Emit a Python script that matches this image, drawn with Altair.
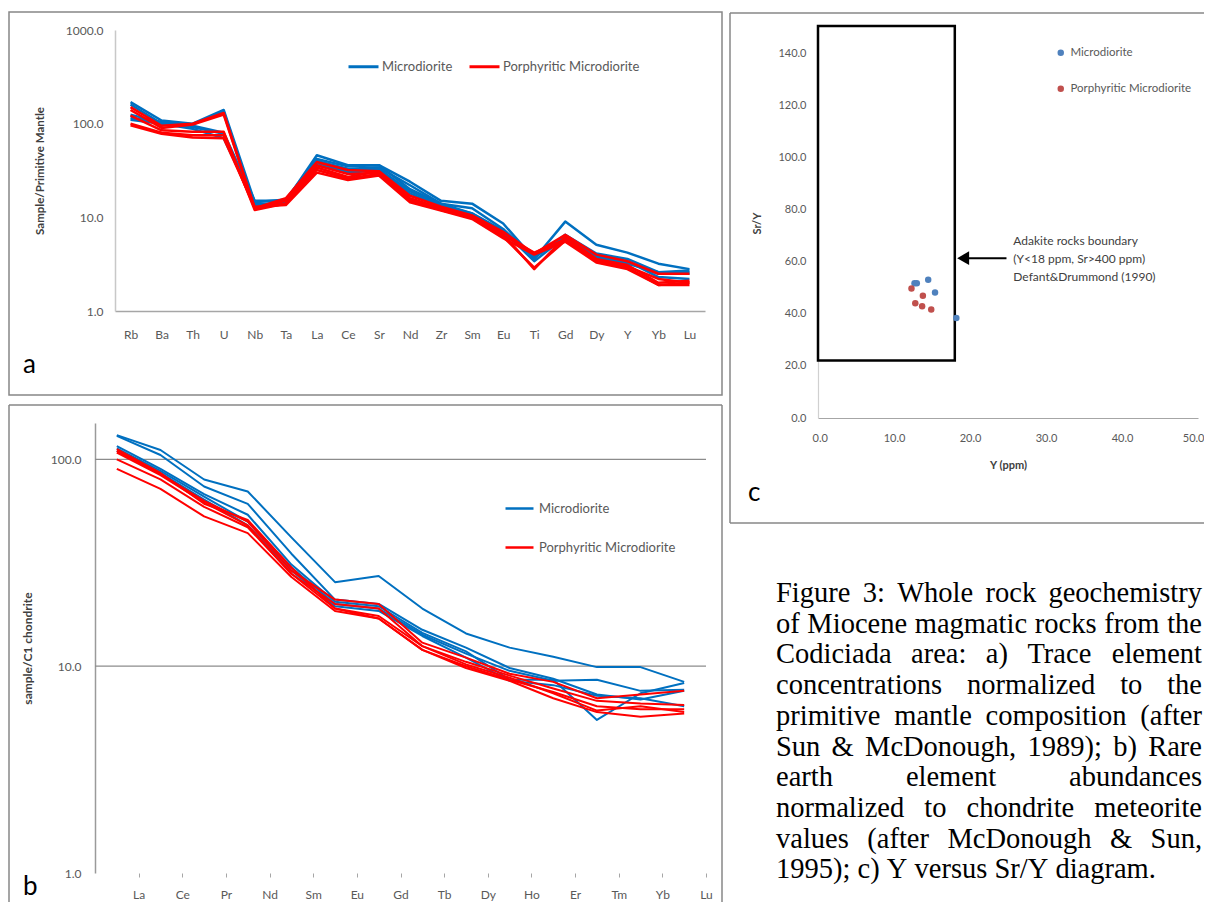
import altair as alt
import pandas as pd

FONT = "Lato"
SERIF = "Liberation Serif"
BLUE_LINE = "#0070C0"
RED_LINE = "#FF0000"
BLUE_PT = "#4F81BD"
RED_PT = "#C0504D"
TXT = "#595959"
TITLE = "#404040"
FRAME = "#878787"

groups = ["Microdiorite", "Porphyritic Microdiorite"]

# ---------------- panel a : primitive-mantle normalised trace elements
elements_a = ["Rb", "Ba", "Th", "U", "Nb", "Ta", "La", "Ce", "Sr", "Nd", "Zr", "Sm",
              "Eu", "Ti", "Gd", "Dy", "Y", "Yb", "Lu"]
a_M1 = [115, 105, 95, 80, 15, 15, 46, 36, 36, 24, 15, 14, 8.6, 3.6, 9.0, 5.1, 4.2, 3.2, 2.8]
a_M2 = [170, 108, 100, 140, 14.5, 15.5, 42, 35, 36, 20, 14, 12.5, 7.5, 3.7, 6.5, 4.1, 3.6, 2.6, 2.7]
a_M3 = [110, 100, 88, 70, 14, 14, 40, 33, 34, 22, 14, 11, 7.2, 3.4, 6.2, 3.9, 3.4, 2.3, 2.2]
a_M4 = [125, 102, 92, 78, 13.5, 14.5, 38, 31, 33, 19, 13.5, 11, 7.0, 3.8, 6.0, 3.8, 3.3, 2.5, 2.5]
a_M5 = [160, 100, 98, 135, 13, 15, 36, 30, 32, 18, 13, 10.5, 6.9, 3.9, 5.9, 3.7, 3.2, 2.6, 2.6]
a_P1 = [150, 95, 100, 130, 12.5, 16, 39, 32, 31, 17, 13, 10.5, 7.0, 4.1, 6.5, 4.0, 3.4, 2.5, 2.5]
a_P2 = [140, 90, 98, 125, 12.5, 15, 36, 29, 30, 16, 12.5, 10, 6.6, 2.8, 6.2, 3.6, 3.1, 2.0, 2.1]
a_P3 = [122, 85, 82, 82, 12, 14, 34, 27, 31, 15.5, 12, 10, 6.4, 4.2, 5.8, 3.5, 3.0, 2.2, 2.0]
a_P4 = [100, 80, 75, 75, 12.5, 14, 32, 26, 29, 15, 12, 9.8, 6.2, 2.9, 5.6, 3.4, 2.9, 1.9, 2.0]
a_P5 = [96, 78, 71, 70, 13, 13.5, 30, 25, 28, 14.5, 11.8, 9.6, 6.0, 4.0, 5.5, 3.3, 2.8, 1.9, 1.9]
a_ticks = [1, 10, 100, 1000]

# ---------------- panel b : chondrite normalised REE
elements_b = ["La", "Ce", "Pr", "Nd", "Sm", "Eu", "Gd", "Tb", "Dy", "Ho", "Er", "Tm", "Yb", "Lu"]
b_M1 = [131, 111, 80, 70, 42, 25.5, 27.3, 19, 14.4, 12.3, 11.1, 9.9, 9.9, 8.4]
b_M2 = [130, 105, 74, 61, 35, 21, 20, 15, 12.3, 9.8, 8.7, 7.3, 6.9, 7.6]
b_M3 = [116, 90, 68, 54, 31, 20.5, 19.5, 14.5, 11.8, 8.6, 8.6, 5.5, 7.4, 8.3]
b_M4 = [113, 88, 66, 50, 30, 20, 19, 14.2, 11.5, 9.5, 8.5, 8.6, 7.6, 7.7]
b_M5 = [110, 86, 64, 48, 29, 19.5, 18.5, 14, 11, 8.5, 8.1, 7.2, 7.0, 6.4]
b_P1 = [110, 85, 63, 50, 29, 21, 20, 13, 11, 9.2, 8.4, 7.0, 7.3, 7.6]
b_P2 = [108, 84, 62, 48, 28, 20, 19, 12.5, 10.5, 9.0, 7.8, 6.8, 6.6, 6.5]
b_P3 = [100, 80, 59, 47, 28, 19, 17, 12, 10, 8.6, 7.5, 6.4, 6.2, 6.2]
b_P4 = [90, 72, 53, 44, 27, 18.5, 17, 12, 9.8, 8.5, 7.0, 6.0, 5.7, 5.9]
b_P5 = [112, 86, 61, 51, 30, 19, 17.5, 12.5, 10.2, 8.8, 7.4, 6.1, 6.4, 6.0]
b_ticks = [1, 10, 100]
b_grid = [10, 100]

# ---------------- panel c : Y vs Sr/Y
c_y_micro = [12.7, 13.0, 14.5, 15.4, 18.2]
c_sry_micro = [51.7, 51.7, 53.0, 48.1, 38.4]
c_y_porph = [12.3, 13.8, 12.8, 13.7, 14.9]
c_sry_porph = [49.7, 46.9, 44.0, 42.9, 41.6]
c_xticks = [0, 10, 20, 30, 40, 50]
c_yticks = [0, 20, 40, 60, 80, 100, 120, 140]
box_y = [0.0, 18.0]
box_sry = [22.1, 150.4]
arrow_y = [24.8, 19.6]
arrow_sry = 61.3
head_y = 19.1
note_lines = ["Adakite rocks boundary", "(Y<18 ppm, Sr>400 ppm)", "Defant&Drummond (1990)"]
note_y = 25.7
note_sry = [68.0, 61.0, 54.2]

caption_lines = [
    "Figure 3: Whole rock geochemistry",
    "of Miocene magmatic rocks from the",
    "Codiciada area: a) Trace element",
    "concentrations normalized to the",
    "primitive mantle composition (after",
    "Sun & McDonough, 1989); b) Rare",
    "earth element abundances",
    "normalized to chondrite meteorite",
    "values (after McDonough & Sun,",
    "1995); c) Y versus Sr/Y diagram.",
]

# ---------------- page layout (pixels relative to the drawing origin)
W, H = 1196, 894
# panel a plot rectangle
AX0, AX1, AY0, AY1 = 107, 697, 22, 303
# panel b plot rectangle
BX0, BX1, BY0, BY1 = 87, 698, 415, 865
# panel c plot rectangle
CX0, CX1, CY0, CY1 = 810, 1190, 45, 410


def long_df(elements, series):
    rows = []
    for name, group, vals in series:
        for e, v in zip(elements, vals):
            rows.append({"element": e, "sample": name, "group": group, "value": v})
    return pd.DataFrame(rows)


df_a = long_df(elements_a, [
    ("M1", groups[0], a_M1), ("M2", groups[0], a_M2), ("M3", groups[0], a_M3),
    ("M4", groups[0], a_M4), ("M5", groups[0], a_M5),
    ("P1", groups[1], a_P1), ("P2", groups[1], a_P2), ("P3", groups[1], a_P3),
    ("P4", groups[1], a_P4), ("P5", groups[1], a_P5)])
df_b = long_df(elements_b, [
    ("M1", groups[0], b_M1), ("M2", groups[0], b_M2), ("M3", groups[0], b_M3),
    ("M4", groups[0], b_M4), ("M5", groups[0], b_M5),
    ("P1", groups[1], b_P1), ("P2", groups[1], b_P2), ("P3", groups[1], b_P3),
    ("P4", groups[1], b_P4), ("P5", groups[1], b_P5)])

one = pd.DataFrame({"k": [0]})


def frame_rect(x0, x1, y0, y1):
    return alt.Chart(one).mark_rect(fillOpacity=0, stroke=FRAME, strokeWidth=1.5).encode(
        x=alt.value(x0), x2=alt.value(x1), y=alt.value(y0), y2=alt.value(y1))


def frame_rule(x0, y0, x1, y1):
    return alt.Chart(one).mark_rule(color=FRAME, strokeWidth=1.5).encode(
        x=alt.value(x0), y=alt.value(y0), x2=alt.value(x1), y2=alt.value(y1))


def letter(ch, x, y, size):
    return alt.Chart(one).mark_text(text=ch, align="left", baseline="middle", font=FONT,
                                    fontSize=size, color="black").encode(
        x=alt.value(x), y=alt.value(y))


# ================= panel a
xa_scale = alt.Scale(type="point", padding=0.5, range=[AX0, AX1])
ya_scale = alt.Scale(type="log", domain=[1, 1000], nice=False, range=[AY1, AY0])
lines_a = alt.Chart(df_a).mark_line(strokeWidth=2.5, strokeJoin="round").encode(
    x=alt.X("element:N", sort=elements_a, scale=xa_scale,
            axis=alt.Axis(orient="bottom", offset=AY1 - H, title=None, labelFont=FONT,
                          labelFontSize=12, labelColor=TXT, labelAngle=0, ticks=False,
                          tickSize=0, labelPadding=18, domainColor="#A6A6A6",
                          domainWidth=1.5, grid=False, labelFlush=False)),
    y=alt.Y("value:Q", scale=ya_scale,
            axis=alt.Axis(orient="left", offset=-AX0, title="Sample/Primitive Mantle",
                          values=a_ticks, format=".1f", labelFont=FONT, labelFontSize=12,
                          labelColor=TXT, ticks=False, tickSize=0, labelPadding=12,
                          labelFlush=False, domainColor="#C8C8C8", domainWidth=1.5,
                          grid=False, titleFont=FONT, titleFontSize=11.5,
                          titleFontWeight="bold", titleColor=TITLE, titleAngle=270,
                          titleX=-75, titleY=(AY0 + AY1) / 2, titleAlign="center",
                          titleBaseline="middle")),
    color=alt.Color("group:N", scale=alt.Scale(domain=groups, range=[BLUE_LINE, RED_LINE]),
                    legend=alt.Legend(title=None, orient="none", legendX=AX0 + 232,
                                      legendY=AY0 + 20, direction="horizontal",
                                      symbolType="stroke", symbolSize=900,
                                      symbolStrokeWidth=3, labelFont=FONT, labelFontSize=13,
                                      labelColor=TXT, columnPadding=10, labelOffset=2,
                                      padding=0)),
    detail="sample:N",
)

# ================= panel b
xb_scale = alt.Scale(type="point", padding=0.5, range=[BX0, BX1])
yb_scale = alt.Scale(type="log", domain=[1, 150], nice=False, range=[BY1, BY0])
grid_b = alt.Chart(pd.DataFrame({"value": b_grid})).mark_rule(
    color="#8C8C8C", strokeWidth=1.2).encode(
    y=alt.Y("value:Q", scale=yb_scale, axis=None),
    x=alt.value(BX0), x2=alt.value(BX1))
lines_b = alt.Chart(df_b).mark_line(strokeWidth=2, strokeJoin="round").encode(
    x=alt.X("element:N", sort=elements_b, scale=xb_scale,
            axis=alt.Axis(orient="bottom", offset=BY1 - H, title=None, labelFont=FONT,
                          labelFontSize=12, labelColor=TXT, labelAngle=0, ticks=True,
                          tickSize=4, tickColor="#A6A6A6",
                          tickOffset=(BX1 - BX0) / (2 * len(elements_b)),
                          labelPadding=12, labelFlush=False, domain=False, grid=False)),
    y=alt.Y("value:Q", scale=yb_scale,
            axis=alt.Axis(orient="left", offset=-BX0, title="sample/C1 chondrite",
                          values=b_ticks, format=".1f", labelFont=FONT, labelFontSize=12,
                          labelColor=TXT, ticks=False, tickSize=0, labelPadding=14,
                          labelFlush=False, domainColor="#9A9A9A", domainWidth=1.5,
                          grid=False, titleFont=FONT, titleFontSize=12,
                          titleFontWeight="bold", titleColor=TITLE, titleAngle=270,
                          titleX=-68, titleY=(BY0 + BY1) / 2, titleAlign="center",
                          titleBaseline="middle")),
    color=alt.Color("group:N", scale=alt.Scale(domain=groups, range=[BLUE_LINE, RED_LINE]),
                    legend=alt.Legend(title=None, orient="none", legendX=BX0 + 409,
                                      legendY=BY0 + 70, direction="vertical",
                                      symbolType="stroke", symbolSize=784,
                                      symbolStrokeWidth=2.5, labelFont=FONT,
                                      labelFontSize=13, labelColor=TXT, rowPadding=16,
                                      labelOffset=4, padding=0)),
    detail="sample:N",
)

# ================= panel c
sx = alt.Scale(domain=[0, 50], nice=False, range=[CX0, CX1])
sy = alt.Scale(domain=[0, 140], nice=False, range=[CY1, CY0])
ax_cx = alt.Axis(orient="bottom", offset=CY1 - H, title="Y (ppm)", values=c_xticks,
                 format=".1f", labelFont=FONT, labelFontSize=11, labelColor=TXT, ticks=False,
                 tickSize=0, labelPadding=14, labelFlush=True, labelFlushOffset=6,
                 domainColor="#A6A6A6", domainWidth=1.2, grid=False, titleFont=FONT,
                 titleFontSize=11, titleFontWeight="bold", titleColor=TITLE,
                 titleX=(CX0 + CX1) / 2, titleY=47, titleBaseline="middle")
ax_cy = alt.Axis(orient="left", offset=-CX0, title="Sr/Y", values=c_yticks, format=".1f",
                 labelFont=FONT, labelFontSize=11, labelColor=TXT, ticks=False, tickSize=0,
                 labelPadding=12, labelFlush=False, domainColor="#D0D0D0", domainWidth=1.2,
                 grid=False, titleFont=FONT, titleFontSize=11, titleFontWeight="bold",
                 titleColor=TITLE, titleAngle=270, titleX=-61, titleY=215,
                 titleAlign="center", titleBaseline="middle")


def cx(f, axis=None):
    if axis is None:
        return alt.X(f, type="quantitative", scale=sx, axis=None)
    return alt.X(f, type="quantitative", scale=sx, axis=axis)


def cy(f, axis=None):
    if axis is None:
        return alt.Y(f, type="quantitative", scale=sy, axis=None)
    return alt.Y(f, type="quantitative", scale=sy, axis=axis)


df_c = pd.DataFrame({
    "Y": c_y_micro + c_y_porph,
    "SrY": c_sry_micro + c_sry_porph,
    "group": [groups[0]] * len(c_y_micro) + [groups[1]] * len(c_y_porph),
})
pts = alt.Chart(df_c).mark_circle(size=42, opacity=1).encode(
    x=cx("Y", ax_cx), y=cy("SrY", ax_cy),
    color=alt.Color("group:N", scale=alt.Scale(domain=groups, range=[BLUE_PT, RED_PT]),
                    legend=alt.Legend(title=None, orient="none", legendX=CX0 + 237,
                                      legendY=CY0 - 6, direction="vertical",
                                      symbolType="circle", symbolSize=42, labelFont=FONT,
                                      labelFontSize=11.5, labelColor=TXT, rowPadding=23,
                                      labelOffset=4, padding=0)),
)
box = alt.Chart(pd.DataFrame({"x0": [box_y[0]], "x1": [box_y[1]], "y0": [box_sry[0]],
                              "y1": [box_sry[1]]})).mark_rect(
    fillOpacity=0, stroke="black", strokeWidth=2.5).encode(
    x=cx("x0"), x2=alt.X2("x1"), y=cy("y0"), y2=alt.Y2("y1"))
arrow = alt.Chart(pd.DataFrame({"x0": [arrow_y[0]], "x1": [arrow_y[1]],
                                "y": [arrow_sry]})).mark_rule(
    color="black", strokeWidth=2).encode(x=cx("x0"), x2=alt.X2("x1"), y=cy("y"))
head = alt.Chart(pd.DataFrame({"x": [head_y], "y": [arrow_sry]})).mark_point(
    shape="triangle-left", filled=True, size=190, color="black", opacity=1,
    strokeWidth=0).encode(x=cx("x"), y=cy("y"))
note = alt.Chart(pd.DataFrame({"x": [note_y] * 3, "y": note_sry, "t": note_lines})).mark_text(
    align="left", baseline="middle", font=FONT, fontSize=12, color="#404040").encode(
    x=cx("x"), y=cy("y"), text="t:N")

# ================= caption, justified with Times metrics (Liberation Serif)
TIMES = {" ": 250, "a": 444, "b": 500, "c": 444, "d": 500, "e": 444, "f": 333, "g": 500,
         "h": 500, "i": 278, "j": 278, "k": 500, "l": 278, "m": 778, "n": 500, "o": 500,
         "p": 500, "q": 500, "r": 333, "s": 389, "t": 278, "u": 500, "v": 500, "w": 722,
         "x": 500, "y": 500, "z": 444, "A": 722, "B": 667, "C": 667, "D": 722, "E": 611,
         "F": 556, "G": 722, "H": 722, "I": 333, "J": 389, "K": 722, "L": 611, "M": 889,
         "N": 722, "O": 722, "P": 556, "Q": 722, "R": 667, "S": 556, "T": 611, "U": 722,
         "V": 722, "W": 944, "X": 722, "Y": 722, "Z": 611, ":": 278, ";": 278, ",": 250,
         ".": 250, "(": 333, ")": 333, "&": 778, "/": 278, "-": 333}
CAP_FS = 28.5
CAP_LEFT, CAP_RIGHT = 768, 1194
CAP_Y0, CAP_DY = 585, 30.7


def tw(s):
    return sum(TIMES.get(ch, 500) for ch in s) * CAP_FS / 1000.0


cap_rows = []
for i, line in enumerate(caption_lines):
    words = line.split(" ")
    widths = [tw(w) for w in words]
    if i < len(caption_lines) - 1 and len(words) > 1:
        gap = max(tw(" "), (CAP_RIGHT - CAP_LEFT - sum(widths)) / (len(words) - 1))
    else:
        gap = tw(" ")
    xpos = CAP_LEFT
    for w, wd in zip(words, widths):
        cap_rows.append({"word": w, "px": xpos, "py": CAP_Y0 + i * CAP_DY})
        xpos += wd + gap
caption = alt.Chart(pd.DataFrame(cap_rows)).mark_text(
    align="left", baseline="middle", font=SERIF, fontSize=CAP_FS, color="black").encode(
    x=alt.X("px:Q", scale=None, axis=None), y=alt.Y("py:Q", scale=None, axis=None),
    text="word:N")

chart = alt.layer(
    # frames
    frame_rect(1, 714, 4, 387),
    frame_rule(1, 397, 1, H), frame_rule(1, 397, 714, 397), frame_rule(714, 397, 714, H),
    frame_rule(722, 5, 722, 515), frame_rule(722, 5, W, 5), frame_rule(722, 515, W, 515),
    # panel a
    lines_a,
    letter("a", 15, 357, 26),
    # panel b
    grid_b, lines_b,
    letter("b", 15, 879, 26),
    # panel c
    box, arrow, head, note, pts,
    letter("c", 740, 485, 26),
    caption,
).resolve_scale(
    x="independent", y="independent", color="independent"
).resolve_axis(
    x="independent", y="independent"
).resolve_legend(
    color="independent"
).properties(
    width=W, height=H, padding=0, autosize=alt.AutoSizeParams(type="none")
).configure_view(strokeWidth=0)

chart.save("out.html", embed_options={"renderer": "svg", "actions": False})
